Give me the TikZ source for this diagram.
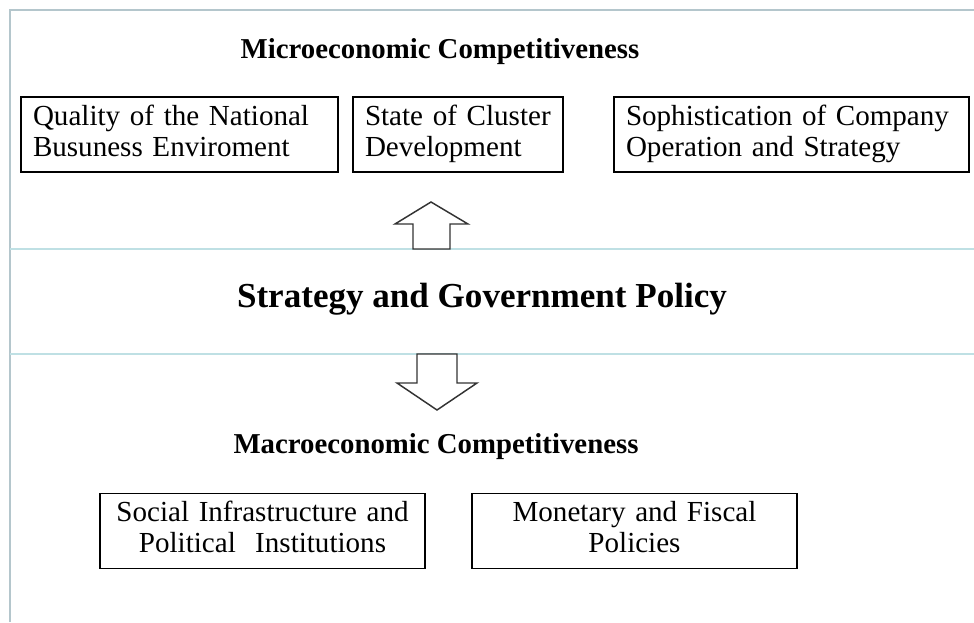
\documentclass[tikz,border=0pt]{standalone}
\usepackage{fontspec}
\setmainfont{Liberation Serif}
\usetikzlibrary{positioning}

\definecolor{framegray}{HTML}{B4C6CC}
\definecolor{rulecyan}{HTML}{BFE0E4}

\begin{document}
\begin{tikzpicture}[x=0.75pt,y=-0.75pt,
  factor/.style={draw,line width=1.2pt,outer sep=0pt,minimum height=56.25pt,
    inner xsep=9pt,inner ysep=4.875pt,
    font=\fontsize{21.8}{23.25}\selectfont,
    execute at begin node=\strut,execute at end node=\strut},
  heading/.style={font=\fontsize{21.6}{26}\selectfont\bfseries},
  blockarrow/.style={draw=black!80,line width=1.1pt,fill=white}]

\useasboundingbox (0,0) rectangle (974,622);

% frame and the two rules around the policy band
\draw [framegray,line width=1.5pt] (10,622) -- (10,10) -- (974,10);
\coordinate (r1w) at (10,249);  \coordinate (r1e) at (974,249);
\coordinate (r2w) at (10,354);  \coordinate (r2e) at (974,354);
\draw [rulecyan,line width=1.5pt] (r1w) -- (r1e);
\draw [rulecyan,line width=1.5pt] (r2w) -- (r2e);

% micro level
\node [heading] (micro) at (440,52) {Microeconomic Competitiveness};

\node [factor,text width=219.75pt,align=left,anchor=west] (m1) at (21,134.5)
  {Quality of the National\\Busuness Enviroment};
\node [factor,text width=139.5pt,align=left] (m2) [right=11.25pt of m1]
  {State of Cluster\\Development};
\node [factor,text width=248.25pt,align=left] (m3) [right=38.25pt of m2]
  {Sophistication of Company\\Operation and Strategy};

% policy band
\node [font=\fontsize{26.3}{31}\selectfont\bfseries] (policy) at (482,299)
  {Strategy and Government Policy};

\draw [blockarrow] (413,249) -- (413,224) -- (395,224) -- (431,202)
  -- (468,224) -- (450,224) -- (450,249) -- cycle;
\draw [blockarrow] (417,354) -- (457,354) -- (457,383) -- (477,383)
  -- (437,410) -- (397,383) -- (417,383) -- cycle;

% macro level
\node [heading] (macro) at (436,447) {Macroeconomic Competitiveness};

\node [factor,text width=225.75pt,align=center,anchor=west] (a1) at (100,531)
  {Social Infrastructure and\\Political\ \ Institutions};
\node [factor,text width=225.75pt,align=center] (a2) [right=35.25pt of a1]
  {Monetary and Fiscal\\Policies};

\end{tikzpicture}
\end{document}
